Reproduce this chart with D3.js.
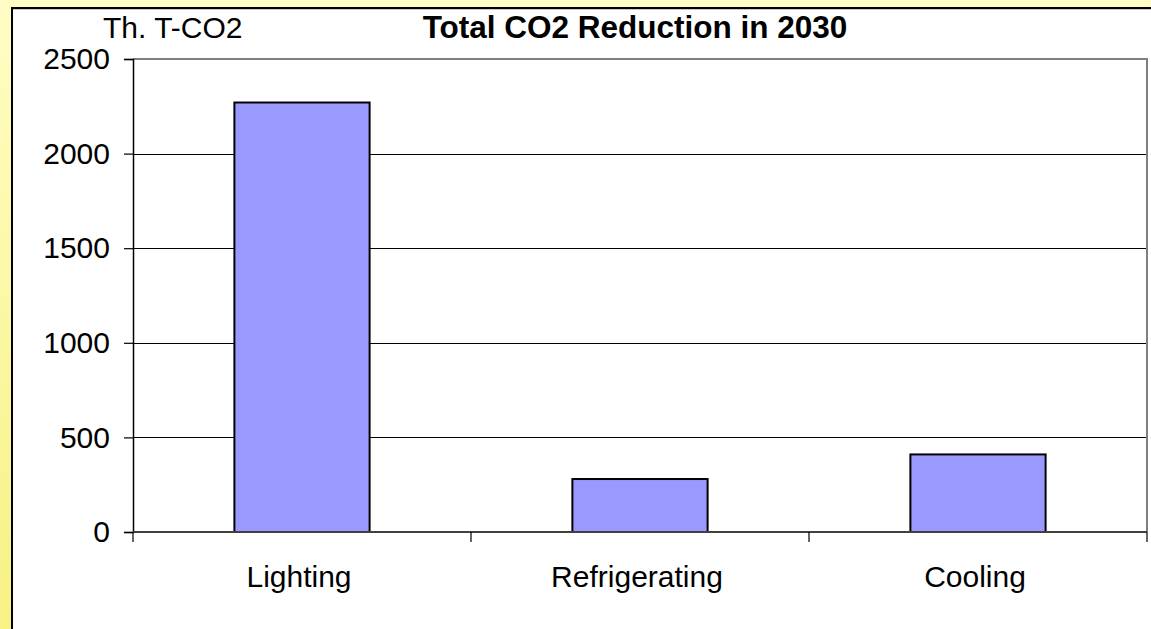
<!DOCTYPE html>
<html>
<head>
<meta charset="utf-8">
<script src="https://cdn.jsdelivr.net/npm/d3@7"></script>
<style>
  html, body { margin: 0; padding: 0; background: #fff; }
  svg { display: block; font-family: Arial, "Liberation Sans", sans-serif; }
</style>
</head>
<body>
<svg id="chart" width="1151" height="629"></svg>
<script>
// Chart data
const categories = ["Lighting", "Refrigerating", "Cooling"];
const reductionValues = [2270, 280, 410];
const yTicks = [0, 500, 1000, 1500, 2000, 2500];
const chartTitle = "Total CO2 Reduction in 2030";
const unitLabel = "Th. T-CO2";

const W = 1151, H = 629;
const plot = { left: 133, right: 1147, top: 59, bottom: 532 };

const svg = d3.select("#chart");

// Yellow backdrop
const defs = svg.append("defs");
const grad = defs.append("linearGradient")
  .attr("id", "bg").attr("x1", 0).attr("y1", 0).attr("x2", 0).attr("y2", 1);
grad.append("stop").attr("offset", "0%").attr("stop-color", "#FFFDC4");
grad.append("stop").attr("offset", "100%").attr("stop-color", "#F6F284");
svg.append("rect").attr("width", W).attr("height", H).attr("fill", "url(#bg)");

// White chart panel with dark frame
svg.append("rect")
  .attr("x", 12).attr("y", 8).attr("width", W + 20).attr("height", H + 20)
  .attr("fill", "#fff").attr("stroke", "#000").attr("stroke-width", 2);
svg.append("line")
  .attr("x1", 13).attr("x2", W).attr("y1", 9.5).attr("y2", 9.5)
  .attr("stroke", "#c8c8c8").attr("stroke-width", 1);

// Scales
const x = d3.scaleBand()
  .domain(categories)
  .range([plot.left, plot.right])
  .paddingInner(0.6)
  .paddingOuter(0.3);

const xCat = d3.scaleBand()
  .domain(categories)
  .range([plot.left, plot.right]);

const y = d3.scaleLinear()
  .domain([0, 2500])
  .range([plot.bottom, plot.top]);

// Horizontal gridlines
svg.append("g")
  .selectAll("line")
  .data(yTicks.filter(t => t > 0 && t < 2500))
  .join("line")
  .attr("x1", plot.left).attr("x2", plot.right)
  .attr("y1", d => Math.round(y(d)) + 0.5).attr("y2", d => Math.round(y(d)) + 0.5)
  .attr("stroke", "#000").attr("stroke-width", 1);

// Plot frame (top and right)
svg.append("path")
  .attr("d", `M${plot.left},${plot.top} H${plot.right} V${plot.bottom}`)
  .attr("fill", "none").attr("stroke", "#808080").attr("stroke-width", 2);

// Bars
svg.append("g")
  .selectAll("rect")
  .data(categories.map((c, i) => ({ c, v: reductionValues[i] })))
  .join("rect")
  .attr("x", d => x(d.c))
  .attr("y", d => y(d.v))
  .attr("width", x.bandwidth())
  .attr("height", d => y(0) - y(d.v))
  .attr("fill", "#9999FF")
  .attr("stroke", "#000")
  .attr("stroke-width", 2);

// Y axis
const yAxis = d3.axisLeft(y).tickValues(yTicks).tickSize(9).tickPadding(14)
  .tickFormat(d3.format("d"));
const gy = svg.append("g").attr("transform", `translate(${plot.left},0)`).call(yAxis);
gy.select(".domain").attr("stroke", "#000").attr("stroke-width", 1.5);
gy.selectAll(".tick line").attr("stroke", "#000").attr("stroke-width", 1.2);
gy.selectAll("text").attr("font-size", 30).attr("fill", "#000")
  .attr("font-family", "Arial, 'Liberation Sans', sans-serif");

// X axis line with category separators
svg.append("line")
  .attr("x1", plot.left).attr("x2", plot.right)
  .attr("y1", plot.bottom).attr("y2", plot.bottom)
  .attr("stroke", "#404040").attr("stroke-width", 2);
const seps = categories.map(c => xCat(c)).concat([plot.right]);
svg.append("g").selectAll("line")
  .data(seps)
  .join("line")
  .attr("x1", d => d).attr("x2", d => d)
  .attr("y1", plot.bottom).attr("y2", plot.bottom + 10)
  .attr("stroke", "#000").attr("stroke-width", 1.2);

// Category labels
svg.append("g").selectAll("text")
  .data(categories)
  .join("text")
  .attr("x", d => xCat(d) + xCat.bandwidth() / 2 - 3)
  .attr("y", 587)
  .attr("text-anchor", "middle")
  .attr("font-size", 30)
  .attr("fill", "#000")
  .text(d => d);

// Title and unit
svg.append("text")
  .attr("x", 635).attr("y", 38)
  .attr("text-anchor", "middle")
  .attr("font-size", 31.5).attr("font-weight", "bold")
  .attr("fill", "#000")
  .text(chartTitle);

svg.append("text")
  .attr("x", 103).attr("y", 38)
  .attr("font-size", 30)
  .attr("fill", "#000")
  .text(unitLabel);
</script>
</body>
</html>
